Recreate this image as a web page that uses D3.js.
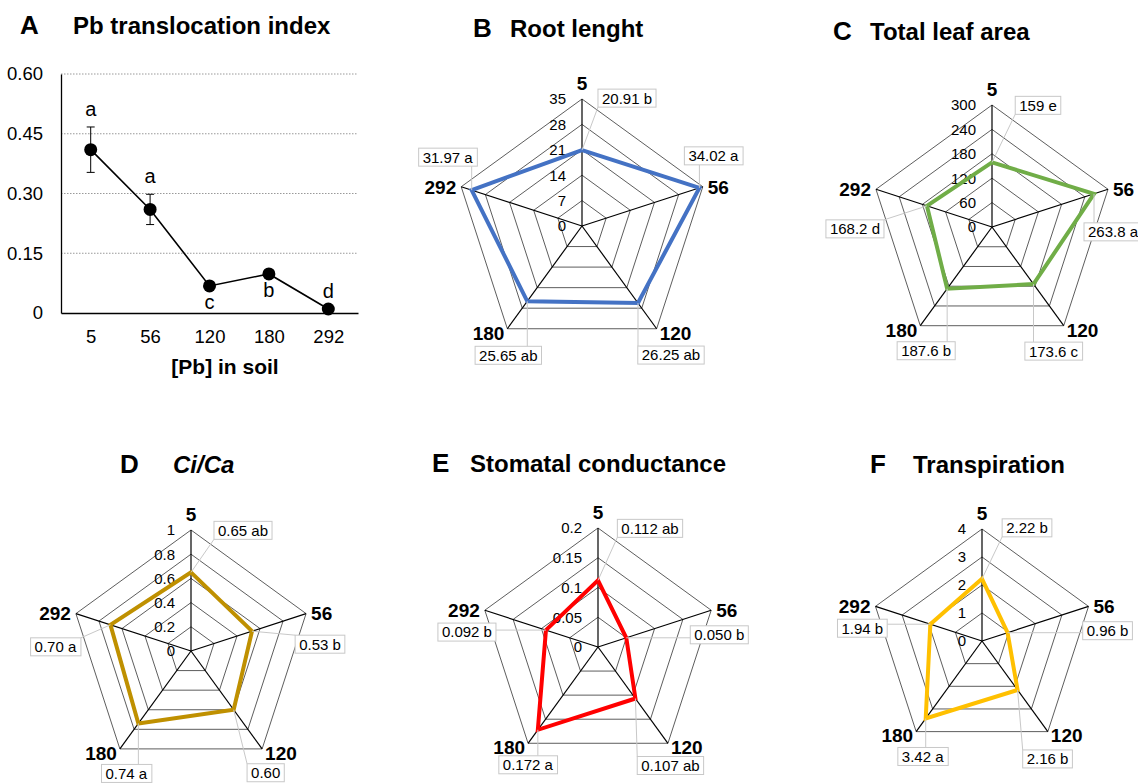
<!DOCTYPE html>
<html>
<head>
<meta charset="utf-8">
<script src="https://cdn.jsdelivr.net/npm/d3@7"></script>
<style>
  body { margin: 0; background: #fff; }
  svg { display: block; }
  text { font-family: "Liberation Sans", Arial, sans-serif; fill: #000; }
</style>
</head>
<body>
<div id="fig"></div>
<script>
// treatments ([Pb] in soil)
const categories = ["5", "56", "120", "180", "292"]

// panel A - Pb translocation index
const tiValues = [0.41, 0.26, 0.068, 0.098, 0.01]
const tiErrors = [0.057, 0.038, 0, 0, 0]
const tiLetters = ["a", "a", "c", "b", "d"]
const tiTicks = [0, 0.15, 0.30, 0.45, 0.60]

// radar panels, values in order 5, 56, 120, 180, 292
const rootLength = [20.91, 34.02, 26.25, 25.65, 31.97]
const rootLetters = ["b", "a", "ab", "ab", "a"]
const rootTicks = [0, 7, 14, 21, 28, 35]

const leafArea = [159, 263.8, 173.6, 187.6, 168.2]
const leafLetters = ["e", "a", "c", "b", "d"]
const leafTicks = [0, 60, 120, 180, 240, 300]

const ciCa = [0.65, 0.53, 0.60, 0.74, 0.70]
const ciCaLetters = ["ab", "b", "", "a", "a"]
const ciCaTicks = [0, 0.2, 0.4, 0.6, 0.8, 1]

const stomatal = [0.112, 0.050, 0.107, 0.172, 0.092]
const stomatalLetters = ["ab", "b", "ab", "a", "b"]
const stomatalTicks = [0, 0.05, 0.1, 0.15, 0.2]

const transp = [2.22, 0.96, 2.16, 3.42, 1.94]
const transpLetters = ["b", "b", "b", "a", "b"]
const transpTicks = [0, 1, 2, 3, 4]

const width = 1138, height = 783
const font = "Liberation Sans"

const svg = d3.select("#fig").append("svg")
    .attr("width", width)
    .attr("height", height)

svg.append("rect").attr("width", width).attr("height", height).attr("fill", "#fff")

function title (letter, lx, tx, y, txt, italic) {
    svg.append("text").attr("x", lx).attr("y", y)
        .attr("font-size", 26).attr("font-weight", "bold").text(letter)
    svg.append("text").attr("x", tx).attr("y", y)
        .attr("font-size", 24).attr("font-weight", "bold")
        .attr("font-style", italic ? "italic" : null)
        .text(txt)
}

// ---------- panel A ----------
title("A", 20, 73, 34, "Pb translocation index")

const x = d3.scalePoint().domain(categories).range([61, 358]).padding(0.5)
const y = d3.scaleLinear().domain([0, 0.6]).range([313, 74])

svg.append("g").selectAll("line")
    .data(tiTicks.filter(d => d > 0))
    .enter().append("line")
    .attr("x1", 61).attr("x2", 358)
    .attr("y1", d => y(d)).attr("y2", d => y(d))
    .attr("stroke", "#999").attr("stroke-width", 1)
    .attr("stroke-dasharray", "1.5,1.5")

const yAxis = svg.append("g")
    .attr("transform", "translate(61,0)")
    .call(d3.axisLeft(y).tickValues(tiTicks).tickSize(0).tickPadding(18)
        .tickFormat(d => d === 0 ? "0" : d.toFixed(2)))
yAxis.select(".domain").attr("stroke", "#000").attr("stroke-width", 1.3)
yAxis.selectAll("text").attr("font-size", 18.5).attr("font-family", font).attr("fill", "#111")

const xAxis = svg.append("g")
    .attr("transform", "translate(0,313)")
    .call(d3.axisBottom(x).tickSize(0).tickPadding(17))
xAxis.select(".domain").attr("stroke", "#000").attr("stroke-width", 1.3)
xAxis.selectAll("text").attr("font-size", 18.5).attr("font-family", font).attr("fill", "#111")

svg.append("text").attr("x", 225).attr("y", 374)
    .attr("text-anchor", "middle").attr("font-size", 21).attr("font-weight", "bold")
    .text("[Pb] in soil")

svg.append("path")
    .datum(tiValues)
    .attr("fill", "none").attr("stroke", "#000").attr("stroke-width", 1.6)
    .attr("d", d3.line().x((d, i) => x(categories[i])).y(d => y(d)))

const errs = svg.append("g").selectAll("g")
    .data(tiValues.map((v, i) => ({ v: v, e: tiErrors[i], c: categories[i] })).filter(d => d.e > 0))
    .enter().append("g").attr("stroke", "#000").attr("stroke-width", 1)
errs.append("line").attr("x1", d => x(d.c)).attr("x2", d => x(d.c))
    .attr("y1", d => y(d.v - d.e)).attr("y2", d => y(d.v + d.e))
errs.append("line").attr("x1", d => x(d.c) - 4).attr("x2", d => x(d.c) + 4)
    .attr("y1", d => y(d.v + d.e)).attr("y2", d => y(d.v + d.e))
errs.append("line").attr("x1", d => x(d.c) - 4).attr("x2", d => x(d.c) + 4)
    .attr("y1", d => y(d.v - d.e)).attr("y2", d => y(d.v - d.e))

svg.append("g").selectAll("circle")
    .data(tiValues)
    .enter().append("circle")
    .attr("cx", (d, i) => x(categories[i]))
    .attr("cy", d => y(d))
    .attr("r", 6.5)
    .attr("fill", "#000")

// letter above the error bar or below the point
const letterSide = ["up", "up", "down", "down", "up"]
svg.append("g").selectAll("text")
    .data(tiValues)
    .enter().append("text")
    .attr("x", (d, i) => x(categories[i]))
    .attr("y", (d, i) => letterSide[i] == "up" ? y(d + tiErrors[i]) - 11 : y(d) + 23)
    .attr("text-anchor", "middle")
    .attr("font-size", 20)
    .attr("fill", "#111")
    .text((d, i) => tiLetters[i])

// ---------- radar panels ----------
function radar (cfg) {
    const g = svg.append("g")
    const cx = cfg.cx, cy = cfg.cy
    const r = d3.scaleLinear().domain([0, d3.max(cfg.ticks)]).range([0, cfg.R])
    const n = categories.length
    const pt = (i, v) => {
        const a = i * 2 * Math.PI / n
        return [cx + r(v) * Math.sin(a), cy - r(v) * Math.cos(a)]
    }
    const maxT = d3.max(cfg.ticks)

    // rings
    g.selectAll(".ring")
        .data(cfg.ticks.filter(t => t > 0))
        .enter().append("polygon")
        .attr("points", t => categories.map((c, i) => pt(i, t).join(",")).join(" "))
        .attr("fill", "none").attr("stroke", "#333").attr("stroke-width", 0.8)

    // spokes
    g.selectAll(".spoke")
        .data(categories)
        .enter().append("line")
        .attr("x1", cx).attr("y1", cy)
        .attr("x2", (c, i) => pt(i, maxT)[0])
        .attr("y2", (c, i) => pt(i, maxT)[1])
        .attr("stroke", "#000").attr("stroke-width", 1.2)

    // tick labels
    g.selectAll(".tick")
        .data(cfg.ticks)
        .enter().append("text")
        .attr("x", cx - 16)
        .attr("y", t => cy - r(t))
        .attr("dy", "0.36em")
        .attr("text-anchor", "end")
        .attr("font-size", 15)
        .attr("fill", "#111")
        .text(t => String(+t.toFixed(3)))

    // category labels
    const catPos = [
        { dx: 0, dy: -9, anchor: "middle", base: 0 },
        { dx: 5, dy: 0, anchor: "start", base: 0.36 },
        { dx: 3, dy: 4, anchor: "start", base: 0.36 },
        { dx: -3, dy: 4, anchor: "end", base: 0.36 },
        { dx: -5, dy: 0, anchor: "end", base: 0.36 }
    ]
    g.selectAll(".cat")
        .data(categories)
        .enter().append("text")
        .attr("x", (c, i) => pt(i, maxT)[0] + catPos[i].dx)
        .attr("y", (c, i) => pt(i, maxT)[1] + catPos[i].dy)
        .attr("dy", (c, i) => catPos[i].base + "em")
        .attr("text-anchor", (c, i) => catPos[i].anchor)
        .attr("font-size", 19).attr("font-weight", "bold")
        .text(c => c)

    // data polygon
    const pts = cfg.values.map((v, i) => pt(i, v))
    g.append("polygon")
        .attr("points", pts.map(p => p.join(",")).join(" "))
        .attr("fill", "none")
        .attr("stroke", cfg.color).attr("stroke-width", 4)
        .attr("stroke-linejoin", "miter")

    // value labels with leader lines
    cfg.values.forEach((v, i) => {
        const p = pts[i]
        const lx = p[0] + cfg.offsets[i][0], ly = p[1] + cfg.offsets[i][1]
        const txt = cfg.fmt(v) + (cfg.letters[i] ? " " + cfg.letters[i] : "")
        const lab = g.append("g")
        const leader = lab.append("line")
        const box = lab.append("rect")
        const t = lab.append("text")
            .attr("x", lx).attr("y", ly).attr("dy", "0.36em")
            .attr("text-anchor", "middle")
            .attr("font-size", 15).attr("fill", "#222")
            .text(txt)
        const bb = t.node().getBBox()
        const bx = bb.x - 4, by = ly - 9, bw = bb.width + 8, bh = 18
        box.attr("x", bx).attr("y", by).attr("width", bw).attr("height", bh)
            .attr("fill", "#fff").attr("stroke", "#c8c8c8").attr("stroke-width", 1)
        const ex = Math.max(bx, Math.min(p[0], bx + bw))
        const ey = Math.max(by, Math.min(p[1], by + bh))
        leader.attr("x1", p[0]).attr("y1", p[1]).attr("x2", ex).attr("y2", ey)
            .attr("stroke", "#c8c8c8").attr("stroke-width", 1)
    })
}

title("B", 473, 510, 37, "Root lenght")
radar({
    cx: 582, cy: 226, R: 127, ticks: rootTicks,
    values: rootLength, letters: rootLetters, color: "#4472C4",
    fmt: v => v.toFixed(2),
    offsets: [[45, -52], [14, -32], [33, 52], [-19, 54], [-24, -33]]
})

title("C", 833, 870, 40, "Total leaf area")
radar({
    cx: 992, cy: 227, R: 122, ticks: leafTicks,
    values: leafArea, letters: leafLetters, color: "#70AD47",
    fmt: v => String(v),
    offsets: [[46, -57], [19, 38], [20, 67], [-21, 62], [-72, 23]]
})

title("D", 120, 173, 473, "Ci/Ca", true)
radar({
    cx: 191, cy: 651, R: 121, ticks: ciCaTicks,
    values: ciCa, letters: ciCaLetters, color: "#BF9000",
    fmt: v => v.toFixed(2),
    offsets: [[52, -42], [68, 13], [32, 63], [-12, 50], [-55, 22]]
})

title("E", 432, 470, 472, "Stomatal conductance")
radar({
    cx: 598, cy: 647, R: 119, ticks: stomatalTicks,
    values: stomatal, letters: stomatalLetters, color: "#FF0000",
    fmt: v => v.toFixed(3),
    offsets: [[52, -52], [93, -3], [35, 67], [-10, 35], [-79, 2]]
})

title("F", 870, 913, 473, "Transpiration")
radar({
    cx: 982, cy: 641, R: 112, ticks: transpTicks,
    values: transp, letters: transpLetters, color: "#FFC000",
    fmt: v => v.toFixed(2),
    offsets: [[45, -51], [100, -2], [30, 69], [-3, 38], [-68, 4]]
})
</script>
</body>
</html>
